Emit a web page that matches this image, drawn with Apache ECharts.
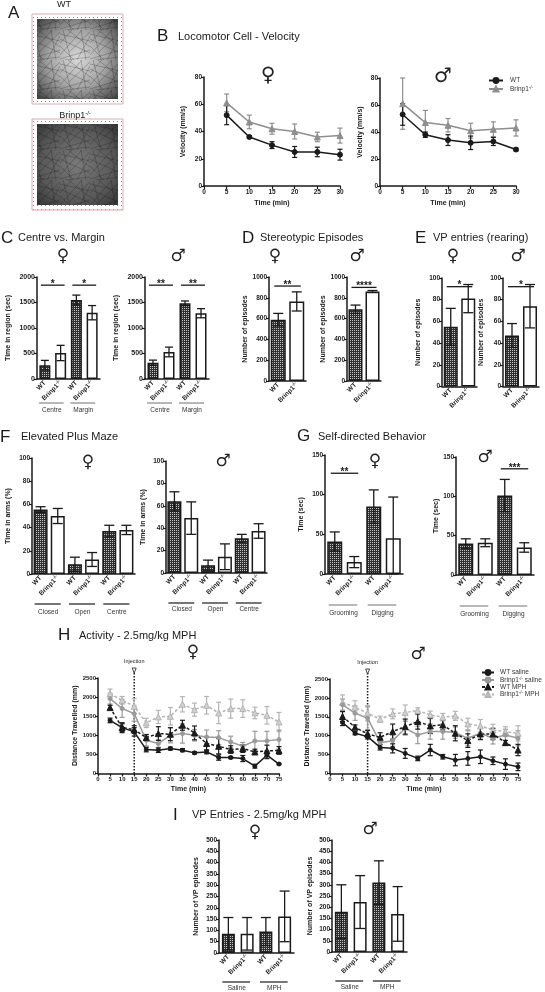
<!DOCTYPE html>
<html><head><meta charset="utf-8">
<script src="https://cdn.jsdelivr.net/npm/echarts@6/dist/echarts.min.js"></script>
<style>html,body{margin:0;padding:0;background:#fff}#c{width:545px;height:992px}</style>
</head><body><div id="c"></div>
<script>
// ---------------- DATA ----------------
const labels2 = ['WT', 'Brinp1-/-'];
const labels4 = ['WT', 'Brinp1-/-', 'WT', 'Brinp1-/-'];
const labels6 = ['WT', 'Brinp1-/-', 'WT', 'Brinp1-/-', 'WT', 'Brinp1-/-'];

// B: Locomotor cell velocity
const bTime = [5, 10, 15, 20, 25, 30];
const bFemaleWT = [52, 36, 30, 25, 25, 23];
const bFemaleWTErr = [7, 1, 2.5, 4, 3.5, 4];
const bFemaleKO = [61, 47, 42, 40, 36, 37];
const bFemaleKOErr = [6.5, 5, 4, 5.5, 3.5, 5.5];
const bMaleWT = [53, 38, 34, 32, 33, 27];
const bMaleWTErr = [8, 2, 4, 5, 3, 1];
const bMaleKO = [61, 47, 45, 41, 42, 43];
const bMaleKOErr = [19, 9, 5, 5.5, 5.5, 6];

// C: Centre vs margin
const cGroups = [[0, 1, 'Centre'], [2, 3, 'Margin']];
const cFemale = [270, 510, 1550, 1300];
const cFemaleErr = [95, 150, 95, 140];
const cFemaleSig = [[0, 1, 1840, '*'], [2, 3, 1840, '*']];
const cMale = [320, 530, 1485, 1290];
const cMaleErr = [50, 95, 45, 90];
const cMaleSig = [[0, 1, 1840, '**'], [2, 3, 1840, '**']];

// D: Stereotypic episodes
const dFemale = [590, 765];
const dFemaleErr = [60, 92];
const dFemaleSig = [[0, 1, 913, '**']];
const dMale = [690, 860];
const dMaleErr = [40, 10];
const dMaleSig = [[0, 1, 900, '****']];

// E: VP entries
const eFemale = [55, 81];
const eFemaleErr = [17, 13];
const eFemaleSig = [[0, 1, 92, '*']];
const eMale = [47, 74];
const eMaleErr = [11, 20];
const eMaleSig = [[0, 1, 92, '*']];

// F: Elevated plus maze
const fGroups = [[0, 1, 'Closed'], [2, 3, 'Open'], [4, 5, 'Centre']];
const fFemale = [55.5, 50, 8.5, 12.5, 37, 38];
const fFemaleErr = [2.5, 6.5, 6, 6, 5, 4];
const fMale = [64, 49, 7, 14.5, 31, 37.5];
const fMaleErr = [8.5, 14.5, 4.5, 11.5, 3.5, 6.5];

// G: Self-directed behaviour
const gGroups = [[0, 1, 'Grooming'], [2, 3, 'Digging']];
const gFemale = [41, 15, 85, 45];
const gFemaleErr = [12, 7, 21, 52];
const gFemaleSig = [[0, 1, 127, '**']];
const gMale = [40, 41, 101, 35];
const gMaleErr = [6, 5, 20.5, 6];
const gMaleSig = [[2, 3, 135, '***']];

// H: Activity MPH
const hTime = [5, 10, 15, 20, 25, 30, 35, 40, 45, 50, 55, 60, 65, 70, 75];
const injectionTime = 15;
const hFemaleWTSal = [1390, 1200, 1090, 627, 610, 653, 610, 540, 566, 418, 418, 392, 192, 479, 248];
const hFemaleWTSalErr = [60, 130, 110, 60, 60, 40, 40, 30, 50, 70, 30, 80, 50, 90, 20];
const hFemaleKOSal = [1960, 1700, 1568, 871, 784, 1002, 1045, 1002, 958, 940, 827, 714, 854, 854, 887];
const hFemaleKOSalErr = [140, 230, 200, 150, 100, 200, 250, 150, 180, 180, 150, 100, 250, 250, 250];
const hFemaleWTMph = [1725, 1202, 1150, 940, 1045, 1028, 1263, 1063, 784, 714, 627, 653, 566, 592, 603];
const hFemaleWTMphErr = [60, 100, 100, 80, 180, 170, 130, 180, 170, 200, 100, 100, 70, 150, 100];
const hFemaleKOMph = [2090, 1916, 1760, 1324, 1481, 1498, 1812, 1672, 1786, 1585, 1699, 1699, 1585, 1524, 1348];
const hFemaleKOMphErr = [120, 100, 200, 120, 170, 230, 200, 170, 230, 280, 250, 230, 150, 230, 250];
const hMaleWTSal = [1348, 1064, 975, 691, 665, 532, 399, 621, 443, 355, 399, 443, 337, 248, 177];
const hMaleWTSalErr = [80, 40, 60, 70, 120, 130, 60, 150, 60, 150, 180, 180, 100, 140, 100];
const hMaleKOSal = [1817, 1596, 1463, 816, 869, 1197, 1020, 1108, 1108, 1082, 931, 1064, 931, 1020, 931];
const hMaleKOSalErr = [150, 190, 300, 160, 150, 180, 230, 200, 200, 150, 200, 150, 150, 150, 200];
const hMaleWTMph = [1507, 1224, 1046, 957, 1108, 1241, 1374, 1259, 1285, 1064, 869, 1046, 1046, 816, 621];
const hMaleWTMphErr = [130, 60, 90, 120, 200, 200, 200, 200, 130, 200, 180, 150, 150, 60, 150];
const hMaleKOMph = [1879, 1755, 1596, 1436, 1578, 1613, 1667, 1551, 1489, 1525, 1312, 1259, 1152, 1108, 1064];
const hMaleKOMphErr = [200, 170, 200, 80, 130, 200, 70, 100, 100, 120, 150, 170, 150, 130, 200];

// I: VP entries MPH
const iGroups = [[0, 1, 'Saline'], [2, 3, 'MPH']];
const iFemale = [85, 85, 95, 162];
const iFemaleErr = [72, 72, 62, 112];
const iMale = [180, 223, 310, 170];
const iMaleErr = [120, 118, 97, 122];

// ---------------- STYLE HELPERS ----------------
const FONT = '"Liberation Sans", Arial, sans-serif';
const SYMF = '"DejaVu Sans", sans-serif';
const INK = '#1a1a1a';
const plain = v => String(v);

function mkCanvas(w, h, draw) { const c = document.createElement('canvas'); c.width = w; c.height = h; draw(c.getContext('2d')); return c; }
const checker = mkCanvas(2, 2, g => { g.fillStyle = '#303030'; g.fillRect(0, 0, 2, 2); g.fillStyle = '#c4c4c4'; g.fillRect(0, 0, 1, 1); });
const CHECK = { image: checker, repeat: 'repeat' };
const dots = mkCanvas(4, 4, g => { g.fillStyle = '#fff'; g.fillRect(0, 0, 4, 4); g.fillStyle = '#8a8a8a'; g.fillRect(1, 1, 1, 1); });
// decorative texture for the open-field track images (panel A)
const scribbleStrokes = [[0, 4, 30, 11], [3, 0, 11, 30], [0, 25, 22, 0], [8, 0, 30, 17], [0, 16, 14, 30], [17, 30, 30, 6],
  [0, 9, 30, 23], [21, 0, 26, 30], [0, 29, 30, 20], [5, 30, 30, 27], [12, 0, 0, 13], [30, 2, 9, 22]];
const scribble = mkCanvas(30, 30, g => {
  g.strokeStyle = 'rgba(15,15,15,0.4)'; g.lineWidth = 0.6; g.beginPath();
  scribbleStrokes.forEach(s => { g.moveTo(s[0], s[1]); g.lineTo(s[2], s[3]); });
  g.stroke();
});

const RICH = {
  b: { fontFamily: FONT, fontSize: 6.5, fontWeight: 'bold', color: INK, lineHeight: 9 },
  s: { fontFamily: FONT, fontSize: 4.5, fontWeight: 'bold', color: INK, verticalAlign: 'top', lineHeight: 5 }
};
const LRICH = {
  b: { fontFamily: FONT, fontSize: 6.5, color: '#333', lineHeight: 8 },
  s: { fontFamily: FONT, fontSize: 4.5, color: '#333', verticalAlign: 'top', lineHeight: 4 }
};
function fmtLab(l) { return l.indexOf('-/-') >= 0 ? '{b|' + l.replace('-/-', '') + '}{s|-/-}' : '{b|' + l + '}'; }
function fmtLeg(l) { return l.indexOf('-/-') >= 0 ? '{b|' + l.split('-/-')[0] + '}{s|-/-}{b|' + l.split('-/-')[1] + '}' : '{b|' + l + '}'; }

const opt = { animation: false, backgroundColor: '#fff', grid: [], xAxis: [], yAxis: [], series: [], legend: [], graphic: [] };

function yAxisCfg(gi, max, interval, name, gap, fs) {
  return {
    type: 'value', gridIndex: gi, min: 0, max, interval, name, nameLocation: 'middle', nameGap: gap,
    nameTextStyle: { fontFamily: FONT, fontSize: 7, fontWeight: 'bold', color: INK },
    axisLine: { show: true, lineStyle: { color: INK, width: 1.5 } },
    axisTick: { show: true, length: 3, lineStyle: { color: INK, width: 1.2 } },
    axisLabel: { fontFamily: FONT, fontSize: fs || 6.5, fontWeight: 'bold', color: INK, margin: 2, formatter: plain },
    splitLine: { show: false }
  };
}

function errSeries(xi, yi, data, color, cap, lw) {
  return {
    type: 'custom', xAxisIndex: xi, yAxisIndex: yi, silent: true, z: 4, encode: { x: 0, y: [1, 2] }, data,
    renderItem: (p, api) => {
      const x = api.value(0), a = api.coord([x, api.value(1)]), b = api.coord([x, api.value(2)]);
      const st = { stroke: color, lineWidth: lw };
      return { type: 'group', children: [
        { type: 'line', shape: { x1: a[0], y1: a[1], x2: b[0], y2: b[1] }, style: st },
        { type: 'line', shape: { x1: a[0] - cap, y1: a[1], x2: a[0] + cap, y2: a[1] }, style: st },
        { type: 'line', shape: { x1: b[0] - cap, y1: b[1], x2: b[0] + cap, y2: b[1] }, style: st }
      ] };
    }
  };
}

function sigSeries(xi, yi, sig) {
  return {
    type: 'custom', xAxisIndex: xi, yAxisIndex: yi, silent: true, z: 6, encode: { x: [0, 1], y: 2 },
    data: sig.map(s => [s[0], s[1], s[2]]),
    renderItem: (p, api) => {
      const a = api.coord([api.value(0), api.value(2)]), b = api.coord([api.value(1), api.value(2)]);
      return { type: 'group', children: [
        { type: 'line', shape: { x1: a[0] - 4, y1: a[1], x2: b[0] + 4, y2: a[1] }, style: { stroke: INK, lineWidth: 1.3 } },
        { type: 'text', x: (a[0] + b[0]) / 2, y: a[1] - 1, style: { text: sig[p.dataIndex][3], fontFamily: FONT, fontSize: 10, fontWeight: 'bold', fill: INK, align: 'center', verticalAlign: 'middle' } }
      ] };
    }
  };
}

function groupSeries(xi, yi, groups, lineOff, textOff, color) {
  return {
    type: 'custom', xAxisIndex: xi, yAxisIndex: yi, silent: true, z: 6, encode: { x: [0, 1], y: 2 },
    data: groups.map(g => [g[0], g[1], 0]),
    renderItem: (p, api) => {
      const a = api.coord([api.value(0), 0]), b = api.coord([api.value(1), 0]);
      const y = a[1];
      return { type: 'group', children: [
        { type: 'line', shape: { x1: a[0] - 6, y1: y + lineOff, x2: b[0] + 3, y2: y + lineOff }, style: { stroke: color, lineWidth: 1.2 } },
        { type: 'text', x: (a[0] + b[0]) / 2 - 1, y: y + textOff, style: { text: groups[p.dataIndex][2], fontFamily: FONT, fontSize: 6.5, fill: '#333', align: 'center', verticalAlign: 'middle' } }
      ] };
    }
  };
}

function barPanel(c) {
  const gi = opt.grid.push({ left: c.left, top: c.top, width: c.width, height: c.height }) - 1;
  const xi = opt.xAxis.push({
    type: 'category', gridIndex: gi, data: c.labels.map((_, i) => 'c' + i),
    axisLine: { show: true, lineStyle: { color: INK, width: 1.5 } }, axisTick: { show: false },
    axisLabel: { interval: 0, rotate: 45, margin: 3, formatter: (v, i) => fmtLab(c.labels[i]), rich: RICH }
  }) - 1;
  const yi = opt.yAxis.push(yAxisCfg(gi, c.max, c.interval, c.yName, c.gap, c.fs)) - 1;
  opt.series.push({
    type: 'bar', xAxisIndex: xi, yAxisIndex: yi, barWidth: c.barWidth, silent: true, z: 2,
    data: c.values.map((v, i) => ({ value: v, itemStyle: { color: c.labels[i] === 'WT' ? CHECK : '#fff', borderColor: INK, borderWidth: 1.5 } }))
  });
  opt.series.push(errSeries(xi, yi, c.values.map((v, i) => [i, Math.max(0, v - c.errs[i]), v + c.errs[i]]), INK, c.cap || 4, 1.3));
  if (c.sig) opt.series.push(sigSeries(xi, yi, c.sig));
  if (c.groups) opt.series.push(groupSeries(xi, yi, c.groups, c.gLine, c.gText, c.gColor || '#555'));
}

function linePanel(c) {
  const gi = opt.grid.push({ left: c.left, top: c.top, width: c.width, height: c.height }) - 1;
  const xi = opt.xAxis.push({
    type: 'value', gridIndex: gi, min: 0, max: c.xmax, interval: 5, name: 'Time (min)', nameLocation: 'middle', nameGap: c.xGap,
    nameTextStyle: { fontFamily: FONT, fontSize: 7, fontWeight: 'bold', color: INK },
    axisLine: { show: true, onZero: false, lineStyle: { color: INK, width: 1.5 } },
    axisTick: { show: true, length: 3, lineStyle: { color: INK, width: 1.2 } },
    axisLabel: { fontFamily: FONT, fontSize: c.xfs || 6.5, fontWeight: 'bold', color: INK, margin: 3, formatter: plain },
    splitLine: { show: false }
  }) - 1;
  const yi = opt.yAxis.push(yAxisCfg(gi, c.ymax, c.yint, c.yName, c.gap, c.yfs)) - 1;
  if (c.injection !== undefined) {
    opt.series.push({
      type: 'custom', xAxisIndex: xi, yAxisIndex: yi, silent: true, z: 1, encode: { x: 0, y: 1 }, data: [[c.injection, 0]],
      renderItem: (p, api) => {
        const b = api.coord([api.value(0), 0]), t = api.coord([api.value(0), c.ymax]);
        const x = b[0], top = t[1] - 10;
        return { type: 'group', children: [
          { type: 'line', shape: { x1: x, y1: b[1], x2: x, y2: top + 4 }, style: { stroke: INK, lineWidth: 1.5, lineDash: [1.5, 1.5] } },
          { type: 'polygon', shape: { points: [[x - 2, top], [x + 2, top], [x, top + 5]] }, style: { fill: '#fff', stroke: INK, lineWidth: 0.8 } },
          { type: 'text', x: x, y: top - 7, style: { text: 'Injection', fontFamily: FONT, fontSize: 5.5, fill: INK, align: 'center', verticalAlign: 'middle' } }
        ] };
      }
    });
  }
  c.series.forEach(s => {
    opt.series.push(errSeries(xi, yi, c.times.map((t, i) => [t, s.vals[i] - s.err[i], s.vals[i] + s.err[i]]), s.color, 2.5, 1.2));
  });
  c.series.forEach(s => {
    opt.series.push({
      type: 'line', name: s.name, xAxisIndex: xi, yAxisIndex: yi, silent: true, z: 5,
      data: c.times.map((t, i) => [t, s.vals[i]]),
      symbol: s.symbol, symbolSize: s.size, showAllSymbol: true,
      lineStyle: { color: s.color, width: 1.5, type: s.dashed ? [3, 2] : 'solid' },
      itemStyle: { color: s.fill, borderColor: s.color, borderWidth: 1 }
    });
  });
}

// ---------------- PANELS ----------------
// B
const koGrayB = '#8e8e8e';
linePanel({ left: 204, top: 77, width: 136, height: 109, xmax: 30, ymax: 80, yint: 20, yName: 'Velocity (mm/s)', gap: 17, xGap: 14, times: bTime,
  series: [
    { name: 'Brinp1-/-', vals: bFemaleKO, err: bFemaleKOErr, color: koGrayB, fill: koGrayB, symbol: 'triangle', size: 6 },
    { name: 'WT', vals: bFemaleWT, err: bFemaleWTErr, color: INK, fill: INK, symbol: 'circle', size: 5 }
  ] });
linePanel({ left: 380, top: 78, width: 136, height: 108, xmax: 30, ymax: 80, yint: 20, yName: 'Velocity (mm/s)', gap: 16, xGap: 14, times: bTime,
  series: [
    { name: 'Brinp1-/-', vals: bMaleKO, err: bMaleKOErr, color: koGrayB, fill: koGrayB, symbol: 'triangle', size: 6 },
    { name: 'WT', vals: bMaleWT, err: bMaleWTErr, color: INK, fill: INK, symbol: 'circle', size: 5 }
  ] });

// C
barPanel({ left: 37, top: 277, width: 63, height: 102, labels: labels4, values: cFemale, errs: cFemaleErr, max: 2000, interval: 500, yName: 'Time in region (sec)', gap: 25, fs: 7, barWidth: 11, sig: cFemaleSig, groups: cGroups, gLine: 24, gText: 31, gColor: '#888' });
barPanel({ left: 145, top: 277, width: 64, height: 102, labels: labels4, values: cMale, errs: cMaleErr, max: 2000, interval: 500, yName: 'Time in region (sec)', gap: 25, fs: 7, barWidth: 11, sig: cMaleSig, groups: cGroups, gLine: 24, gText: 31, gColor: '#888' });
// D
barPanel({ left: 269, top: 277, width: 37, height: 104, labels: labels2, values: dFemale, errs: dFemaleErr, max: 1000, interval: 200, yName: 'Number of episodes', gap: 20, fs: 6.5, barWidth: 15, cap: 5, sig: dFemaleSig });
barPanel({ left: 347, top: 277, width: 34, height: 104, labels: labels2, values: dMale, errs: dMaleErr, max: 1000, interval: 200, yName: 'Number of episodes', gap: 20, fs: 6.5, barWidth: 14, cap: 5, sig: dMaleSig });
// E
barPanel({ left: 442, top: 278, width: 35, height: 108.5, labels: labels2, values: eFemale, errs: eFemaleErr, max: 100, interval: 20, yName: 'Number of episodes', gap: 20, fs: 6.5, barWidth: 14, cap: 5, sig: eFemaleSig });
barPanel({ left: 503, top: 278, width: 36, height: 108.5, labels: labels2, values: eMale, errs: eMaleErr, max: 100, interval: 20, yName: 'Number of episodes', gap: 18, fs: 6.5, barWidth: 14, cap: 5, sig: eMaleSig });
// F
barPanel({ left: 32, top: 458, width: 103, height: 116, labels: labels6, values: fFemale, errs: fFemaleErr, max: 100, interval: 20, yName: 'Time in arms (%)', gap: 20, fs: 6.5, barWidth: 14, cap: 5, groups: fGroups, gLine: 30, gText: 38, gColor: INK });
barPanel({ left: 166, top: 461, width: 101, height: 112, labels: labels6, values: fMale, errs: fMaleErr, max: 100, interval: 20, yName: 'Time in arms (%)', gap: 19, fs: 6.5, barWidth: 14, cap: 5, groups: fGroups, gLine: 30, gText: 36, gColor: INK });
// G
barPanel({ left: 325, top: 455, width: 78, height: 119, labels: labels4, values: gFemale, errs: gFemaleErr, max: 150, interval: 50, yName: 'Time (sec)', gap: 20, fs: 6.5, barWidth: 15, cap: 5, sig: gFemaleSig, groups: gGroups, gLine: 31, gText: 39, gColor: '#888' });
barPanel({ left: 456, top: 457, width: 78, height: 118, labels: labels4, values: gMale, errs: gMaleErr, max: 150, interval: 50, yName: 'Time (sec)', gap: 16, fs: 6.5, barWidth: 15, cap: 5, sig: gMaleSig, groups: gGroups, gLine: 31, gText: 39, gColor: '#888' });

// H
const koSal = '#9a9a9a', koMph = '#b4b4b4';
function hSeries(wtS, wtSE, koS, koSE, wtM, wtME, koM, koME) {
  return [
    { name: 'Brinp1-/- MPH', vals: koM, err: koME, color: koMph, fill: '#d0d0d0', symbol: 'triangle', size: 6, dashed: true },
    { name: 'Brinp1-/- saline', vals: koS, err: koSE, color: koSal, fill: koSal, symbol: 'circle', size: 4 },
    { name: 'WT MPH', vals: wtM, err: wtME, color: INK, fill: INK, symbol: 'triangle', size: 6, dashed: true },
    { name: 'WT saline', vals: wtS, err: wtSE, color: INK, fill: INK, symbol: 'circle', size: 4 }
  ];
}
linePanel({ left: 98, top: 678, width: 181, height: 95.5, xmax: 75, ymax: 2500, yint: 500, yName: 'Distance Travelled (mm)', gap: 18, xGap: 12, xfs: 6, yfs: 6, times: hTime, injection: injectionTime,
  series: hSeries(hFemaleWTSal, hFemaleWTSalErr, hFemaleKOSal, hFemaleKOSalErr, hFemaleWTMph, hFemaleWTMphErr, hFemaleKOMph, hFemaleKOMphErr) });
linePanel({ left: 330, top: 679, width: 188, height: 94.5, xmax: 75, ymax: 2500, yint: 500, yName: 'Distance Travelled (mm)', gap: 18, xGap: 12, xfs: 6, yfs: 6, times: hTime, injection: injectionTime,
  series: hSeries(hMaleWTSal, hMaleWTSalErr, hMaleKOSal, hMaleKOSalErr, hMaleWTMph, hMaleWTMphErr, hMaleKOMph, hMaleKOMphErr) });

// I
barPanel({ left: 219, top: 840, width: 75, height: 113, labels: labels4, values: iFemale, errs: iFemaleErr, max: 500, interval: 50, yName: 'Number of VP episodes', gap: 19, fs: 6.5, barWidth: 13, cap: 5, groups: iGroups, gLine: 29, gText: 35, gColor: INK });
barPanel({ left: 332, top: 840, width: 75, height: 112, labels: labels4, values: iMale, errs: iMaleErr, max: 500, interval: 50, yName: 'Number of VP episodes', gap: 18, fs: 6.5, barWidth: 13, cap: 5, groups: iGroups, gLine: 29, gText: 35, gColor: INK });

// Legends
opt.legend.push({ data: ['WT', 'Brinp1-/-'], orient: 'vertical', left: 483, top: 72, itemWidth: 14, itemHeight: 6, itemGap: 1, selectedMode: false,
  formatter: fmtLeg, textStyle: { rich: LRICH, padding: [0, 0, 0, 2] } });
opt.legend.push({ data: ['WT saline', 'Brinp1-/- saline', 'WT MPH', 'Brinp1-/- MPH'], orient: 'vertical', left: 476, top: 664, itemWidth: 12, itemHeight: 6, itemGap: 0, selectedMode: false,
  formatter: fmtLeg, textStyle: { rich: LRICH, padding: [0, 0, 0, 1] } });

// ---------------- TEXT & DECORATION ----------------
function txt(x, y, s, fs, extra) { return { type: 'text', x, y, z: 10, style: Object.assign({ text: s, fontFamily: FONT, fontSize: fs, fill: INK, verticalAlign: 'middle' }, extra || {}) }; }
function sym(x, y, s, fs) { return txt(x, y, s, fs || 17, { fontFamily: SYMF, align: 'center', fill: '#222' }); }
function arena(x, y, w, h, stops) {
  return [
    { type: 'rect', z: 1, shape: { x, y, width: w, height: h }, style: { fill: { image: dots, repeat: 'repeat' }, stroke: '#d9a9b3', lineWidth: 1 } },
    { type: 'rect', z: 2, shape: { x: x + 5, y: y + 5, width: w - 10, height: h - 10 }, style: { fill: { type: 'radial', x: 0.5, y: 0.5, r: 0.72, colorStops: stops } } },
    { type: 'rect', z: 3, shape: { x: x + 5, y: y + 5, width: w - 10, height: h - 10 }, style: { fill: { image: scribble, repeat: 'repeat' } } }
  ];
}
const G = opt.graphic;
// Panel letters & titles
G.push(txt(8, 13, 'A', 17));
G.push(txt(157, 36, 'B', 17)); G.push(txt(178, 37, 'Locomotor Cell - Velocity', 11));
G.push(txt(1, 238, 'C', 17)); G.push(txt(18, 238, 'Centre vs. Margin', 11));
G.push(txt(242, 238, 'D', 17)); G.push(txt(260, 238, 'Stereotypic Episodes', 11));
G.push(txt(415, 238, 'E', 17)); G.push(txt(433, 238, 'VP entries (rearing)', 11));
G.push(txt(0, 437, 'F', 17)); G.push(txt(21, 437, 'Elevated Plus Maze', 11));
G.push(txt(297, 436, 'G', 17)); G.push(txt(318, 437, 'Self-directed Behavior', 11));
G.push(txt(58, 635, 'H', 17)); G.push(txt(79, 636, 'Activity - 2.5mg/kg MPH', 11));
G.push(txt(173, 815, 'I', 17)); G.push(txt(192, 815, 'VP Entries - 2.5mg/kg MPH', 11));
// Panel A arenas
G.push(txt(64, 5, 'WT', 9, { align: 'center' }));
G.push({ type: 'text', x: 75, y: 116, z: 10, style: { text: '{b|Brinp1}{s|-/-}', align: 'center', verticalAlign: 'middle',
  rich: { b: { fontFamily: FONT, fontSize: 9, fill: INK, lineHeight: 11 }, s: { fontFamily: FONT, fontSize: 6, fill: INK, verticalAlign: 'top', lineHeight: 6 } } } });
arena(32, 14, 91, 90, [{ offset: 0, color: '#d8d8d8' }, { offset: 0.5, color: '#a4a4a4' }, { offset: 1, color: '#3c3c3c' }]).forEach(e => G.push(e));
arena(32, 119, 91, 91, [{ offset: 0, color: '#7a7a7a' }, { offset: 0.6, color: '#5a5a5a' }, { offset: 1, color: '#333' }]).forEach(e => G.push(e));
// Sex symbols
G.push(sym(268, 76, '♀', 20)); G.push(sym(443, 77, '♂', 20));
G.push(sym(63, 257, '♀')); G.push(sym(178, 257, '♂'));
G.push(sym(275, 257, '♀')); G.push(sym(357, 257, '♂'));
G.push(sym(453, 257, '♀')); G.push(sym(518, 257, '♂'));
G.push(sym(88, 463, '♀')); G.push(sym(223, 462, '♂'));
G.push(sym(375, 462, '♀')); G.push(sym(485, 458, '♂'));
G.push(sym(193, 653, '♀')); G.push(sym(418, 655, '♂'));
G.push(sym(255, 833, '♀')); G.push(sym(370, 830, '♂'));

const chart = echarts.init(document.getElementById('c'), null, { renderer: 'canvas', width: 545, height: 992 });
chart.setOption(opt);
</script></body></html>
